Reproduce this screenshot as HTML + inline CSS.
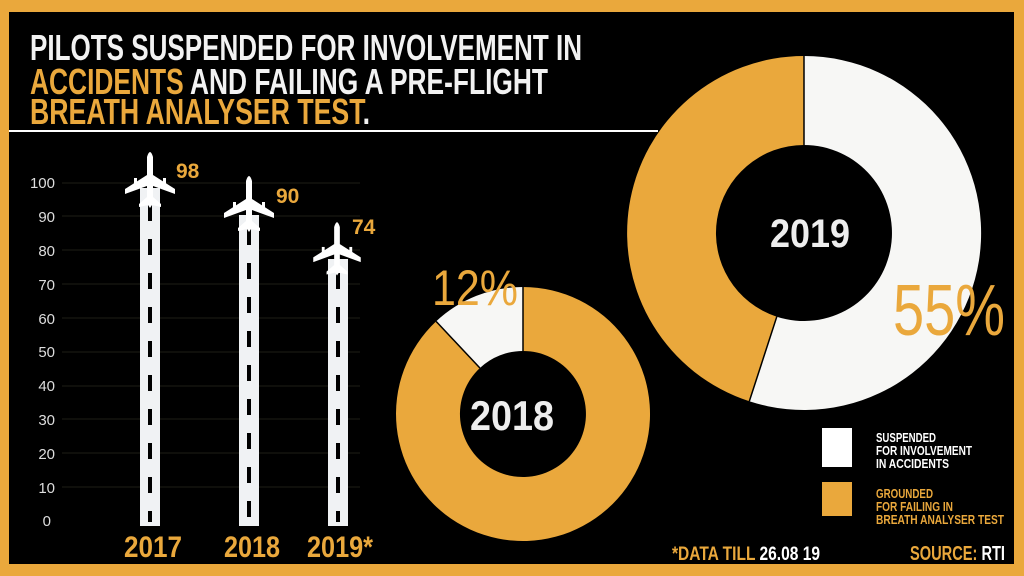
<!DOCTYPE html>
<html><head><meta charset="utf-8"><style>
html,body{margin:0;padding:0;background:#eaa83c;}
svg{display:block}
text{font-family:"Liberation Sans Narrow","Liberation Sans",sans-serif;}
</style></head><body>
<svg width="1024" height="576" viewBox="0 0 1024 576" xmlns="http://www.w3.org/2000/svg">
<defs>
<g id="plane">
<path d="M-3,-20 Q0,-30 3,-20 L3,-2 L25,12 L25,17 L3,9 L3,20 L11,27 L11,30 L2,28 L0,31 L-2,28 L-11,30 L-11,27 L-3,20 L-3,9 L-25,17 L-25,12 L-3,-2 Z" fill="#fff"/>
<rect x="-16" y="1" width="3" height="8" fill="#fff"/><rect x="13" y="1" width="3" height="8" fill="#fff"/>
</g>
</defs>
<rect x="0" y="0" width="1024" height="576" fill="#eaa83c"/>
<rect x="9" y="12" width="1005" height="552" fill="#000"/>
<line x1="9" y1="131" x2="658" y2="131" stroke="#fff" stroke-width="2"/>
<g font-size="36" fill="#f2f2f2" font-weight="bold">
<text x="30" y="60" textLength="552" lengthAdjust="spacingAndGlyphs">PILOTS SUSPENDED FOR INVOLVEMENT IN</text>
<text x="30" y="94" textLength="518" lengthAdjust="spacingAndGlyphs"><tspan fill="#eaa83c">ACCIDENTS</tspan> AND FAILING A PRE-FLIGHT</text>
<text x="30" y="124" textLength="340" lengthAdjust="spacingAndGlyphs"><tspan fill="#eaa83c">BREATH ANALYSER TEST</tspan>.</text>
</g>
<g stroke="#1e1e16" stroke-width="1">
<line x1="62" y1="183" x2="360" y2="183"/><line x1="62" y1="216" x2="360" y2="216"/><line x1="62" y1="250" x2="360" y2="250"/><line x1="62" y1="284" x2="360" y2="284"/><line x1="62" y1="318" x2="360" y2="318"/><line x1="62" y1="352" x2="360" y2="352"/><line x1="62" y1="386" x2="360" y2="386"/><line x1="62" y1="419" x2="360" y2="419"/><line x1="62" y1="453" x2="360" y2="453"/><line x1="62" y1="487" x2="360" y2="487"/>
</g>
<g font-size="15" fill="#ddd" text-anchor="end">
<text x="55" y="188" style="font-family:'Liberation Sans',sans-serif">100</text><text x="55" y="222" style="font-family:'Liberation Sans',sans-serif">90</text><text x="55" y="256" style="font-family:'Liberation Sans',sans-serif">80</text><text x="55" y="290" style="font-family:'Liberation Sans',sans-serif">70</text><text x="55" y="324" style="font-family:'Liberation Sans',sans-serif">60</text><text x="55" y="357" style="font-family:'Liberation Sans',sans-serif">50</text><text x="55" y="391" style="font-family:'Liberation Sans',sans-serif">40</text><text x="55" y="425" style="font-family:'Liberation Sans',sans-serif">30</text><text x="55" y="459" style="font-family:'Liberation Sans',sans-serif">20</text><text x="55" y="493" style="font-family:'Liberation Sans',sans-serif">10</text><text x="51" y="526" style="font-family:'Liberation Sans',sans-serif">0</text>
</g>
<g fill="#f0f2f4">
<rect x="140" y="188" width="20" height="338"/>
<rect x="239" y="215" width="20" height="311"/>
<rect x="328" y="259" width="20" height="267"/>
</g>
<g stroke="#000" stroke-width="4" stroke-dasharray="16 18">
<line x1="150" y1="205" x2="150" y2="522"/>
<line x1="249" y1="229" x2="249" y2="522"/>
<line x1="338" y1="273" x2="338" y2="522"/>
</g>
<use href="#plane" transform="translate(150,177)"/>
<use href="#plane" transform="translate(249,201)"/>
<use href="#plane" transform="translate(337,246) scale(0.95)"/>
<g fill="#eaa83c" font-size="21" font-weight="bold">
<text x="176" y="178">98</text><text x="276" y="203">90</text><text x="352" y="234">74</text>
</g>
<g fill="#eaa83c" font-size="30" font-weight="bold">
<text x="124" y="557" textLength="58" lengthAdjust="spacingAndGlyphs">2017</text>
<text x="224" y="557" textLength="56" lengthAdjust="spacingAndGlyphs">2018</text>
<text x="307" y="557" textLength="66" lengthAdjust="spacingAndGlyphs">2019*</text>
</g>
<path d="M804,56 A177,177 0 1 1 749.3,401.3 L776.8,316.7 A88,88 0 1 0 804,145 Z" fill="#f7f7f5"/>
<path d="M749.3,401.3 A177,177 0 0 1 804,56 L804,145 A88,88 0 0 0 776.8,316.7 Z" fill="#eaa83c"/>
<line x1="804" y1="56" x2="804" y2="145" stroke="#000" stroke-width="1.5"/>
<line x1="749.3" y1="401.3" x2="776.8" y2="316.7" stroke="#000" stroke-width="1.5"/>
<text x="810" y="247" fill="#eee" font-size="40" font-weight="bold" text-anchor="middle" textLength="80" lengthAdjust="spacingAndGlyphs">2019</text>
<path d="M523,287 A127,127 0 1 1 436.1,321.4 L479.9,368 A63,63 0 1 0 523,351 Z" fill="#eaa83c"/>
<path d="M436.1,321.4 A127,127 0 0 1 523,287 L523,351 A63,63 0 0 0 479.9,368 Z" fill="#f7f7f5"/>
<line x1="523" y1="287" x2="523" y2="351" stroke="#000" stroke-width="1.5"/>
<line x1="436.1" y1="321.4" x2="479.9" y2="368" stroke="#000" stroke-width="1.5"/>
<text x="470" y="430" fill="#eee" font-size="42" font-weight="bold" textLength="84" lengthAdjust="spacingAndGlyphs">2018</text>
<text x="432" y="305" fill="#eaa83c" font-size="50" textLength="86" lengthAdjust="spacingAndGlyphs">12%</text>
<text x="893" y="335" fill="#eaa83c" font-size="72" textLength="112" lengthAdjust="spacingAndGlyphs">55%</text>
<rect x="822" y="428" width="30" height="39" fill="#fff"/>
<rect x="822" y="482" width="30" height="34" fill="#eaa83c"/>
<g font-size="13" fill="#fff" font-weight="bold">
<text x="876" y="442" textLength="60" lengthAdjust="spacingAndGlyphs">SUSPENDED</text><text x="876" y="455" textLength="96" lengthAdjust="spacingAndGlyphs">FOR INVOLVEMENT</text><text x="876" y="468" textLength="73" lengthAdjust="spacingAndGlyphs">IN ACCIDENTS</text>
</g>
<g font-size="13" fill="#eaa83c" font-weight="bold">
<text x="876" y="498" textLength="57" lengthAdjust="spacingAndGlyphs">GROUNDED</text><text x="876" y="511" textLength="77" lengthAdjust="spacingAndGlyphs">FOR FAILING IN</text><text x="876" y="524" textLength="128" lengthAdjust="spacingAndGlyphs">BREATH ANALYSER TEST</text>
</g>
<text x="672" y="560" font-size="19" font-weight="bold" fill="#eaa83c" textLength="148" lengthAdjust="spacingAndGlyphs">*DATA TILL <tspan fill="#fff">26.08 19</tspan></text>
<text x="910" y="560" font-size="20" font-weight="bold" fill="#eaa83c" textLength="95" lengthAdjust="spacingAndGlyphs">SOURCE: <tspan fill="#fff">RTI</tspan></text>
</svg>
</body></html>
